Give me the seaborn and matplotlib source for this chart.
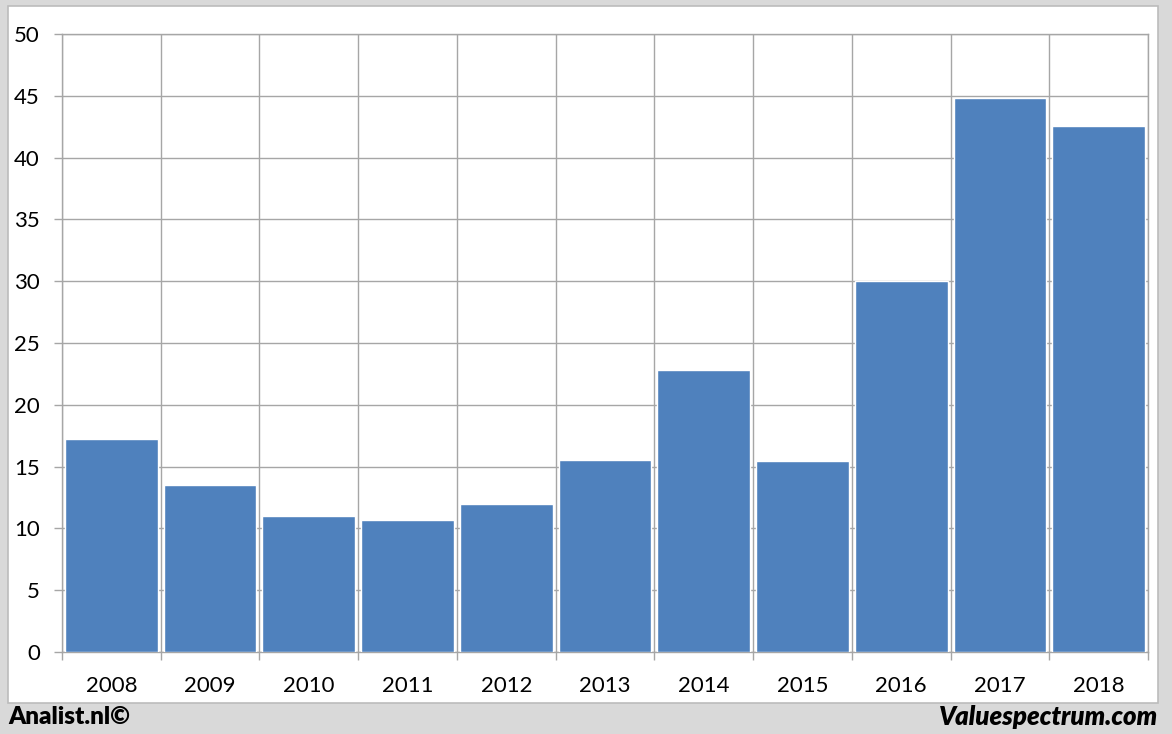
import matplotlib
matplotlib.use("Agg")
import matplotlib.pyplot as plt
from matplotlib.patches import Rectangle
from matplotlib.ticker import FixedLocator
import seaborn as sns
import pandas as pd
import numpy as np

years = ["2008", "2009", "2010", "2011", "2012", "2013", "2014", "2015", "2016", "2017", "2018"]
values = [17.2, 13.5, 11.0, 10.7, 12.0, 15.5, 22.8, 15.45, 30.0, 44.8, 42.55]
yticks = [0, 5, 10, 15, 20, 25, 30, 35, 40, 45, 50]

sns.set_theme(style="white")
plt.rcParams['font.family'] = ['Lato', 'DejaVu Sans']

W, H = 1172, 734
fig = plt.figure(figsize=(W / 100, H / 100), dpi=100, facecolor="#d9d9d9")

# white panel
panel = Rectangle((8 / W, 1 - 703 / H), (1158 - 8) / W, (703 - 6) / H,
                  transform=fig.transFigure, facecolor="white",
                  edgecolor="#bcbcbc", linewidth=1.2, zorder=-10)
fig.patches.append(panel)

ax = fig.add_axes([62 / W, 1 - 652 / H, (1148 - 62) / W, (652 - 34) / H])
ax.set_zorder(1)
ax.set_facecolor("none")

df = pd.DataFrame({"year": years, "value": values})
sns.barplot(data=df, x="year", y="value", color="#4F81BD", saturation=1,
            width=0.94, edgecolor="white", linewidth=1.0, ax=ax, zorder=3)

grid_c = "#a6a6a6"
ax.set_ylim(0, 50)
ax.set_xlim(-0.5, len(years) - 0.5)
ax.set_yticks(yticks)
ax.set_yticklabels([str(v) for v in yticks])
ax.xaxis.set_minor_locator(FixedLocator(np.arange(-0.5, len(years), 1.0)))
ax.grid(True, axis="y", which="major", color=grid_c, linewidth=1.0, zorder=0)
ax.grid(True, axis="x", which="minor", color=grid_c, linewidth=1.0, zorder=0)
ax.grid(False, axis="x", which="major")
ax.set_axisbelow(True)

ax.tick_params(axis="y", which="major", length=6, width=1.0, color=grid_c,
               pad=10, labelsize=16, labelcolor="black", left=True)
ax.tick_params(axis="x", which="major", length=0, pad=17, labelsize=16,
               labelcolor="black")
ax.tick_params(axis="x", which="minor", length=6, width=1.0, color=grid_c,
               bottom=True)

for s in ax.spines.values():
    s.set_color(grid_c)
    s.set_linewidth(1.0)
ax.set_xlabel("")
ax.set_ylabel("")

fig.text(8 / W, 1 - 717 / H, "Analist.nl©", ha="left", va="center",
         fontsize=17.5, fontweight="heavy", color="black")
fig.text(1158 / W, 1 - 717 / H, "Valuespectrum.com", ha="right", va="center",
         fontsize=18.5, fontweight="heavy", fontstyle="italic", color="black")

fig.savefig("out.png", dpi=100, facecolor=fig.get_facecolor())
